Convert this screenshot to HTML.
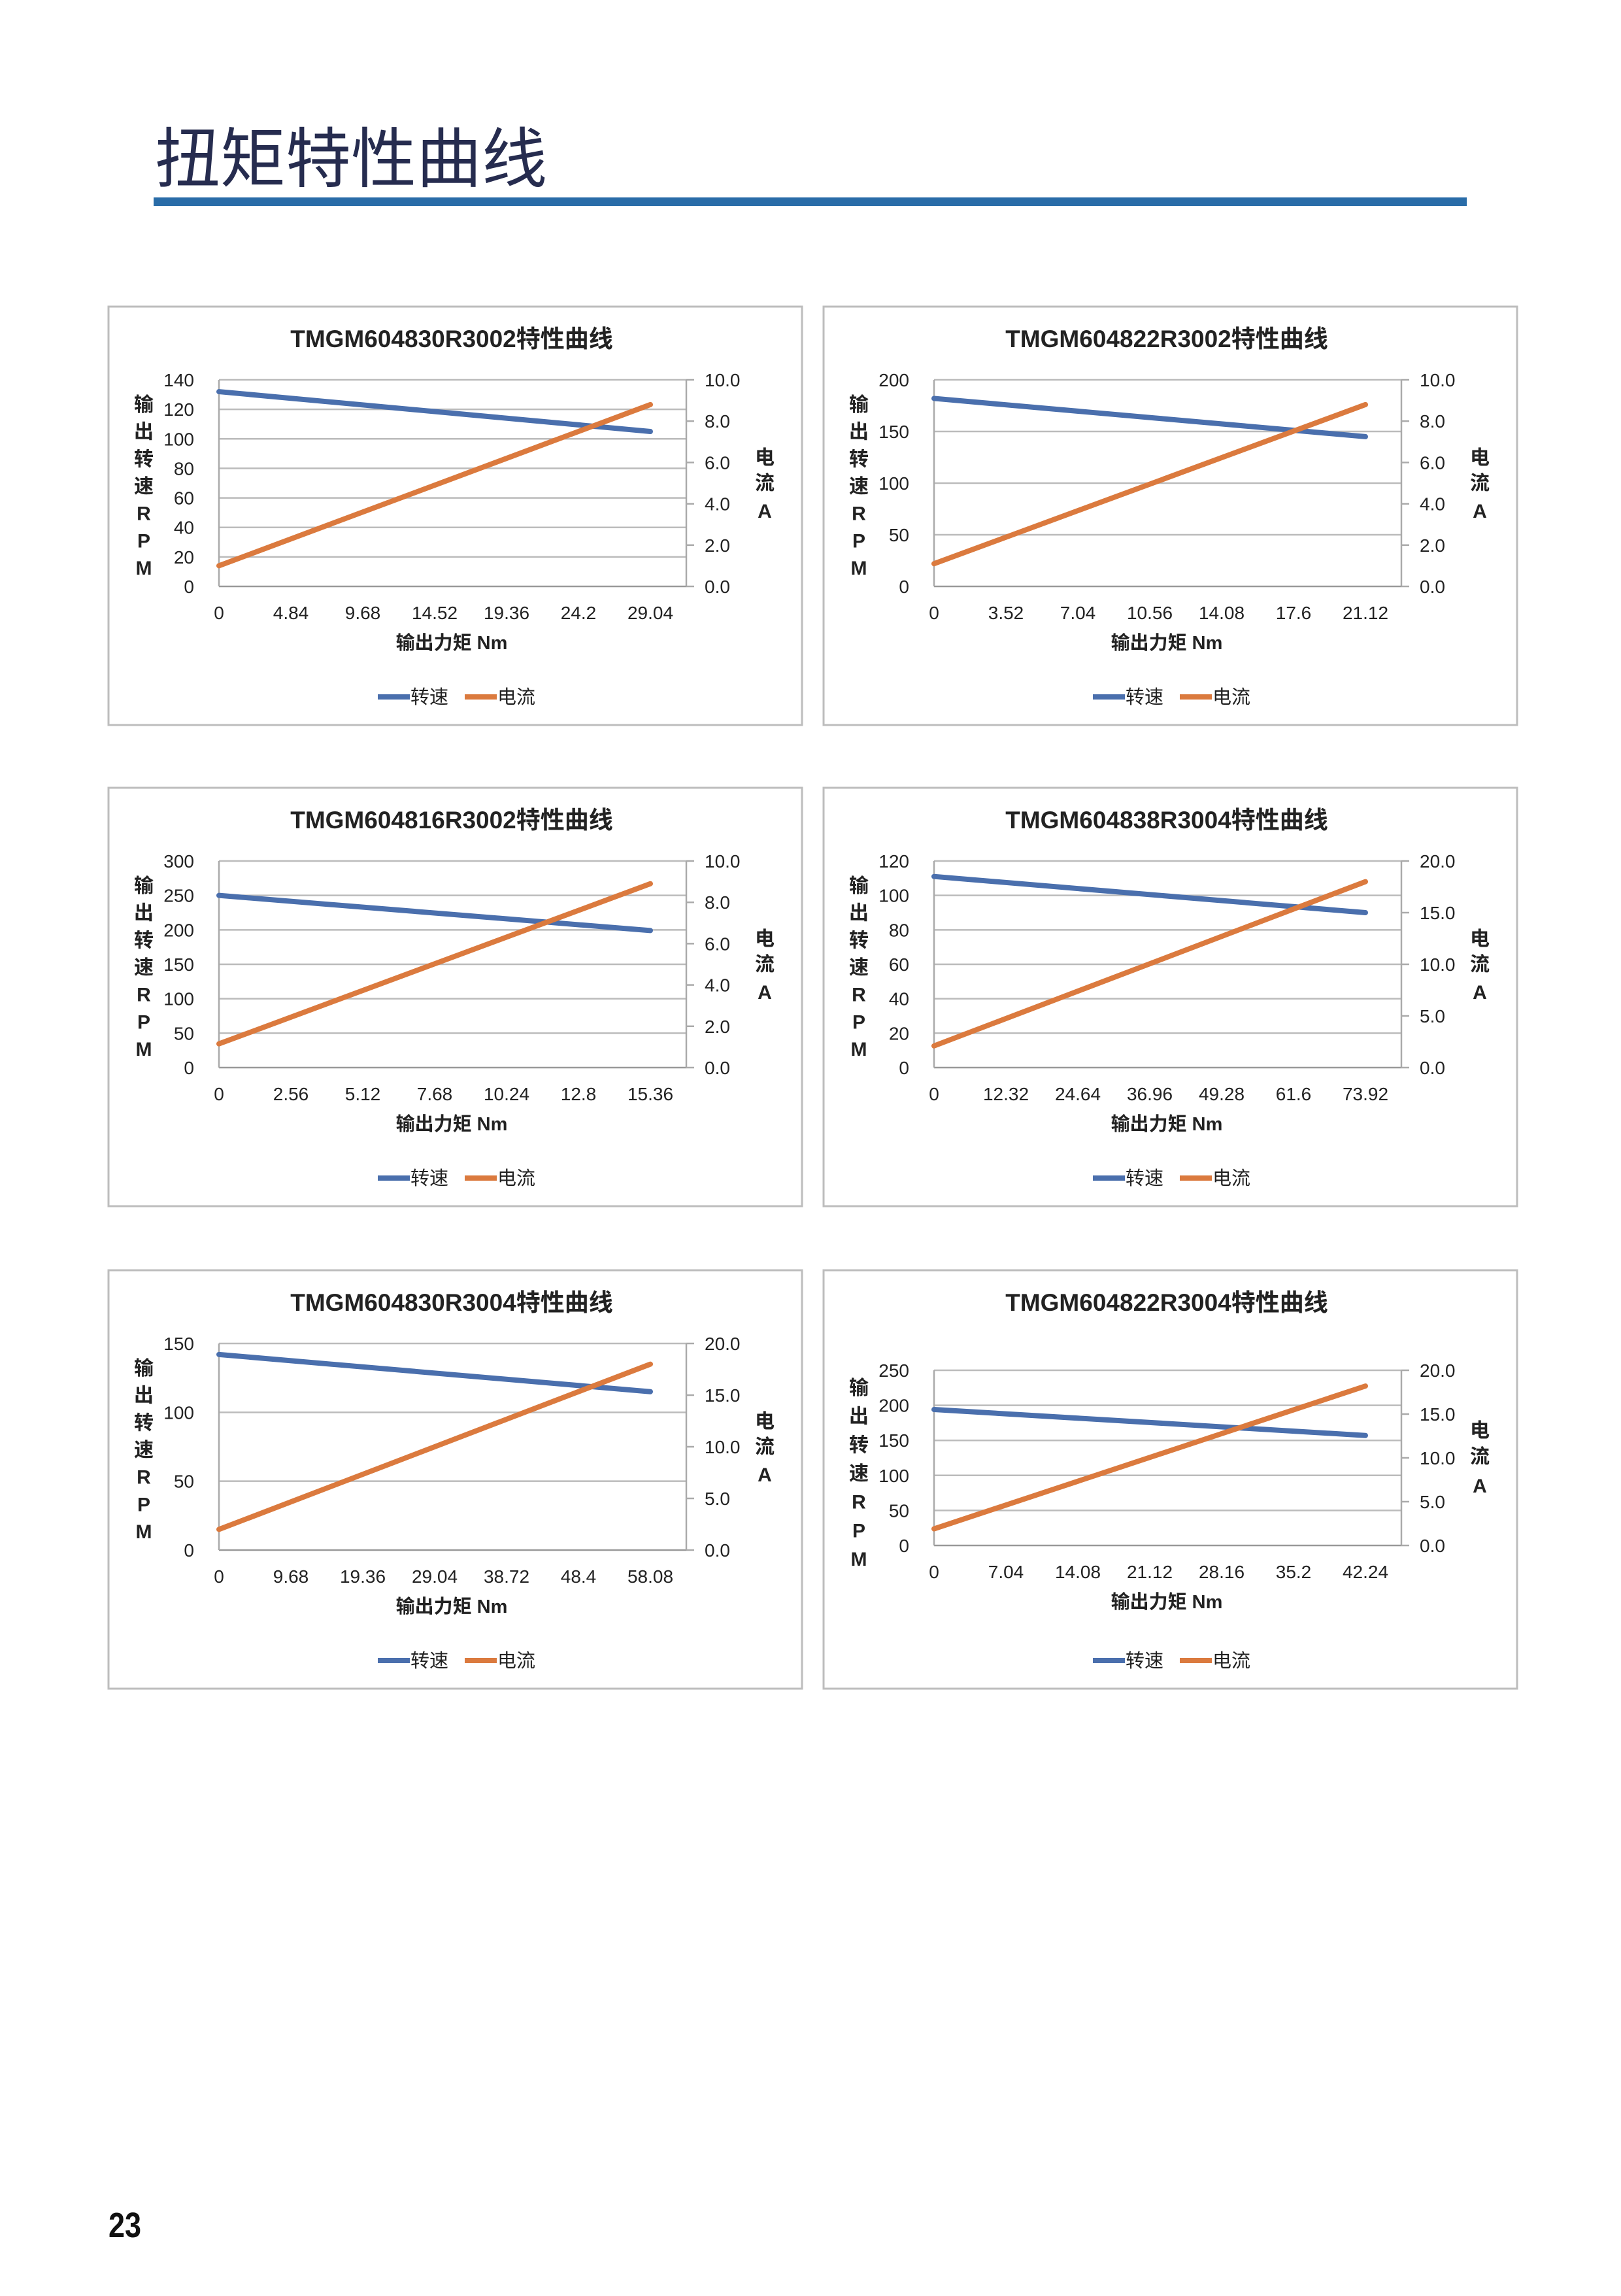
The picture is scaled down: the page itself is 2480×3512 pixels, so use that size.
<!DOCTYPE html>
<html><head><meta charset="utf-8"><style>
html,body{margin:0;padding:0;background:#fff;}
svg text{font-family:"Liberation Sans","Noto Sans CJK SC",sans-serif;}
</style></head><body>
<svg id="page" width="2480" height="3507" viewBox="0 0 2480 3507" xmlns="http://www.w3.org/2000/svg">
<text x="237" y="278" font-size="100" fill="#262c4f" style="font-family:'Noto Sans CJK SC',sans-serif" textLength="600" lengthAdjust="spacingAndGlyphs">扭矩特性曲线</text>
<rect x="235" y="302" width="2009" height="13" fill="#296ca8"/>
<text x="166" y="3422" font-size="54" font-weight="bold" fill="#111" textLength="50" lengthAdjust="spacingAndGlyphs">23</text>
<g id="charts"></g>
</svg>
<script>
const titles=["TMGM604830R3002特性曲线","TMGM604822R3002特性曲线","TMGM604816R3002特性曲线","TMGM604838R3004特性曲线","TMGM604830R3004特性曲线","TMGM604822R3004特性曲线"];
const xTickStep=[4.84,3.52,2.56,12.32,9.68,7.04];
const leftMax=[140,200,300,120,150,250];
const leftStep=[20,50,50,20,50,50];
const rightMax=[10,10,10,20,20,20];
const rightStep=[2,2,2,5,5,5];
const speedStart=[132,182,250,111,142,194];
const speedEnd=[105,145,199,90,115,157];
const currentStart=[1.0,1.1,1.15,2.1,2.0,1.9];
const currentEnd=[8.8,8.8,8.9,18.0,18.0,18.2];
const NS="http://www.w3.org/2000/svg";
const root=document.getElementById('charts');
function mk(tag,attrs,parent,txt){const e=document.createElementNS(NS,tag);for(const k in attrs)e.setAttribute(k,attrs[k]);if(txt!==undefined)e.textContent=txt;parent.appendChild(e);return e;}
const boxX=[166,1260],boxY=[469,1205,1943];
for(let i=0;i<6;i++){
  const g=mk('g',{transform:`translate(${boxX[i%2]},${boxY[Math.floor(i/2)]})`},root);
  
  
  const box=mk('rect',{x:0,y:0,width:1061,height:640,fill:'#fff',stroke:'#bdbdbd','stroke-width':3},g);
  
  
  const t=mk('text',{x:525,y:62,'text-anchor':'middle','font-size':37,'font-weight':'bold',fill:'#222'},g,titles[i]);
  
  
  const L=169,R=884,T=(i==5?153:112),B=(i==5?421:428);
  const nInt=6.5;
  const xs=v=>L+(v/(xTickStep[i]*nInt))*(R-L);
  const yl=v=>B-(v/leftMax[i])*(B-T);
  const yr=v=>B-(v/rightMax[i])*(B-T);
  for(let v=0;v<=leftMax[i]+1e-9;v+=leftStep[i]){
    const y=yl(v);
    const gl=mk('line',{x1:L,x2:R,y1:y,y2:y,stroke:v==0?'#999':'#bbb','stroke-width':2.5},g);
    
    
    const tl=mk('text',{x:L-38,y:y+10,'text-anchor':'end','font-size':28,fill:'#222'},g,String(v));
    
    
  }
  mk('line',{x1:L,x2:L,y1:T,y2:B,stroke:'#aaa','stroke-width':2.5},g);
  mk('line',{x1:R,x2:R,y1:T,y2:B,stroke:'#aaa','stroke-width':2.5},g);
  for(let v=0;v<=rightMax[i]+1e-9;v+=rightStep[i]){
    const y=yr(v);
    mk('line',{x1:R,x2:R+12,y1:y,y2:y,stroke:'#aaa','stroke-width':2.5},g);
    const tr=mk('text',{x:R+28,y:y+10,'font-size':28,fill:'#222'},g,v.toFixed(1));
    
    
  }
  for(let k=0;k<=6;k++){
    const v=+(k*xTickStep[i]).toFixed(2);
    const xl=mk('text',{x:xs(v),y:B+50,'text-anchor':'middle','font-size':28,fill:'#222'},g,String(v));
    
    
  }
  const xt=mk('text',{x:525,y:B+96,'text-anchor':'middle','font-size':29,'font-weight':'bold',fill:'#222'},g,'输出力矩 Nm');
  
  
  const lchars=['输','出','转','速','R','P','M'];
  const lt0=(i==5?180:150),lt1=(i==5?442:400);
  lchars.forEach((c,k)=>{const e=mk('text',{x:54,y:lt0+k*(lt1-lt0)/6+10,'text-anchor':'middle','font-size':30,'font-weight':'bold',fill:'#222'},g,c);
    
    });
  const rt=(i==5?[245,285,330]:[231,270,313]);
  ['电','流','A'].forEach((c,k)=>{const e=mk('text',{x:1004,y:rt[k]+10,'text-anchor':'middle','font-size':30,'font-weight':'bold',fill:'#222'},g,c);
    
    });
  const xEnd=xTickStep[i]*6;
  const sp=mk('line',{x1:xs(0),y1:yl(speedStart[i]),x2:xs(xEnd),y2:yl(speedEnd[i]),stroke:'#4a6fad','stroke-width':8,'stroke-linecap':'round'},g);
  
  
  const cu=mk('line',{x1:xs(0),y1:yr(currentStart[i]),x2:xs(xEnd),y2:yr(currentEnd[i]),stroke:'#db7a3e','stroke-width':8,'stroke-linecap':'round'},g);
  
  
  const lg=mk('g',{},g);
  
  
  mk('line',{x1:412,x2:461,y1:597,y2:597,stroke:'#4a6fad','stroke-width':8},lg);
  mk('text',{x:462,y:607,'font-size':29,fill:'#222'},lg,'转速');
  mk('line',{x1:545,x2:594,y1:597,y2:597,stroke:'#db7a3e','stroke-width':8},lg);
  mk('text',{x:595,y:607,'font-size':29,fill:'#222'},lg,'电流');
}
</script>
</body></html>
